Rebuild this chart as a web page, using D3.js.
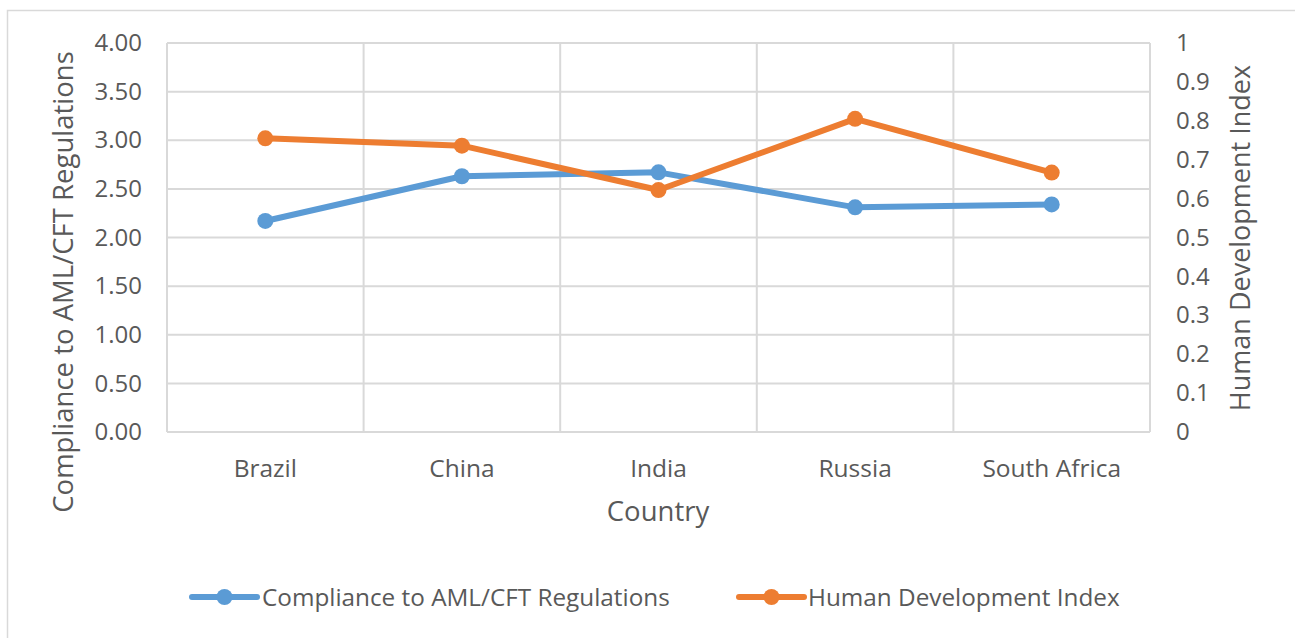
<!DOCTYPE html>
<html><head><meta charset="utf-8">
<script src="https://cdn.jsdelivr.net/npm/d3@7"></script>
<style>body{margin:0;background:#fff}svg{display:block}text{font-family:"Open Sans",sans-serif;fill:#595959}</style>
</head><body>
<svg id="c" width="1295" height="638"></svg>
<script>
const countries = ["Brazil","China","India","Russia","South Africa"];
const compliance = [2.17, 2.63, 2.67, 2.31, 2.34];
const hdi = [0.755, 0.736, 0.622, 0.805, 0.667];
const leftTicks = [0,0.5,1,1.5,2,2.5,3,3.5,4];
const rightTicks = [0,0.1,0.2,0.3,0.4,0.5,0.6,0.7,0.8,0.9,1];
const seriesNames = ["Compliance to AML/CFT Regulations","Human Development Index"];
const colors = ["#5B9BD5","#ED7D31"];

const svg = d3.select("#c");
const L=167, R=1150, T=43, B=432;
// outer border (top & left visible)
svg.append("rect").attr("x",7.5).attr("y",10.5).attr("width",1400).attr("height",700)
  .attr("fill","none").attr("stroke","#D9D9D9").attr("stroke-width",1.5);

const x = d3.scaleBand().domain(countries).range([L,R]).padding(0);
const yL = d3.scaleLinear().domain([0,4]).range([B,T]);
const yR = d3.scaleLinear().domain([0,1]).range([B,T]);

const g = svg.append("g");
g.selectAll(".hg").data(leftTicks).join("line")
  .attr("x1",L).attr("x2",R).attr("y1",d=>yL(d)).attr("y2",d=>yL(d))
  .attr("stroke","#D9D9D9").attr("stroke-width",2);
const bounds = countries.map(c=>x(c)).concat([R]);
g.selectAll(".vg").data(bounds).join("line")
  .attr("x1",d=>d).attr("x2",d=>d).attr("y1",T).attr("y2",B)
  .attr("stroke","#D9D9D9").attr("stroke-width",2);

const axL = svg.append("g").attr("transform",`translate(${L-25},0)`)
  .call(d3.axisLeft(yL).tickValues(leftTicks).tickFormat(d3.format(".2f")).tickSize(0).tickPadding(0));
axL.select(".domain").remove();
axL.selectAll("text").attr("font-size",24).attr("fill","#595959").attr("font-family","Open Sans");

const axR = svg.append("g").attr("transform",`translate(1176,0)`)
  .call(d3.axisRight(yR).tickValues(rightTicks).tickFormat(d=>d3.format("")(+d.toFixed(1))).tickSize(0).tickPadding(0));
axR.select(".domain").remove();
axR.selectAll("text").attr("font-size",24).attr("fill","#595959").attr("font-family","Open Sans");

const axB = svg.append("g").attr("transform",`translate(0,${B})`)
  .call(d3.axisBottom(x).tickSize(0).tickPadding(28));
axB.select(".domain").remove();
axB.selectAll("text").attr("font-size",24.5).attr("fill","#595959").attr("font-family","Open Sans");

svg.append("text").attr("x",658).attr("y",521).attr("text-anchor","middle").attr("font-size",27.5).text("Country");
svg.append("text").attr("transform","translate(73,282) rotate(-90)").attr("text-anchor","middle").attr("font-size",27.5).text(seriesNames[0]);
svg.append("text").attr("transform","translate(1250,238) rotate(-90)").attr("text-anchor","middle").attr("font-size",27).text(seriesNames[1]);

const cx = c => x(c)+x.bandwidth()/2;
const series = [
  {vals:compliance, y:yL, color:colors[0]},
  {vals:hdi, y:yR, color:colors[1]}
];
series.forEach(s=>{
  const line = d3.line().x((d,i)=>cx(countries[i])).y(d=>s.y(d));
  svg.append("path").datum(s.vals).attr("d",line).attr("fill","none")
    .attr("stroke",s.color).attr("stroke-width",6).attr("stroke-linejoin","round").attr("stroke-linecap","round");
  svg.selectAll(null).data(s.vals).join("circle")
    .attr("cx",(d,i)=>cx(countries[i])).attr("cy",d=>s.y(d)).attr("r",8).attr("fill",s.color);
});

const legend = [
  {x1:192,x2:257,tx:262},
  {x1:739,x2:804,tx:808}
];
legend.forEach((l,i)=>{
  const lg = svg.append("g");
  lg.append("line").attr("x1",l.x1).attr("x2",l.x2).attr("y1",597).attr("y2",597)
    .attr("stroke",colors[i]).attr("stroke-width",6).attr("stroke-linecap","round");
  lg.append("circle").attr("cx",(l.x1+l.x2)/2).attr("cy",597).attr("r",8).attr("fill",colors[i]);
  lg.append("text").attr("x",l.tx).attr("y",597).attr("dy","0.35em").attr("font-size",24.3).text(seriesNames[i]);
});
</script>
</body></html>
